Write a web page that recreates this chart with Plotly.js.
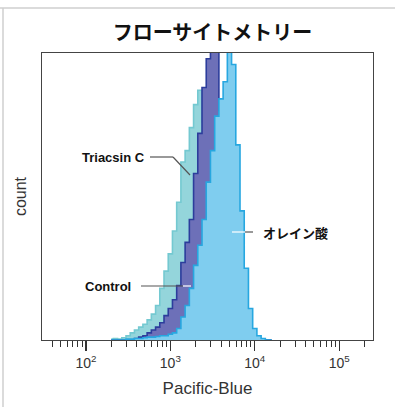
<!DOCTYPE html>
<html>
<head>
<meta charset="utf-8">
<script src="https://cdn.plot.ly/plotly-3.0.1.min.js"></script>
<style>html,body{margin:0;padding:0;background:#fff;}#chart{width:395px;height:407px;}</style>
</head>
<body>
<div id="chart"></div>
<script>
// bin centres, log10(Pacific-Blue intensity)
const binLog = [2.30,2.35,2.40,2.45,2.50,2.55,2.60,2.65,2.70,2.75,2.80,2.85,2.90,2.95,
  3.00,3.05,3.10,3.15,3.20,3.25,3.30,3.35,3.40,3.45,3.50,3.55,3.60,3.65,3.70,3.75,
  3.80,3.85,3.90,3.95,4.00,4.05,4.10,4.15,4.20];
// relative counts (100 = top of frame)
const triacsin = [0.3,0.5,0.3,0.8,1.5,2.5,3.5,4.5,5.5,7,9,12,18,24,
  30,38,48,62,66,74,82,87,76,60,40,22,10,4,1.5,0.5,
  0,0,0,0,0,0,0,0,0];
const control = [0,0,0,0,0,0,0.5,1,1.5,2.5,3.5,4.5,6,8.5,
  11,14,19,27,34,42,58,72,88,98,104,104,80,50,30,15,
  6,2,0.5,0,0,0,0,0,0];
const oleic = [0,0,0,0,0.3,0.3,0.5,0.5,0.8,1,1,1.2,1.5,1.5,
  2,2.5,4,8,12,18,26,33,42,55,66,78,84,90,104,96,
  68,45,25,11,4,1.5,0.5,0,0];
const seriesNames = ['Triacsin C', 'Control', 'オレイン酸'];
const tickVals = [100, 1000, 10000, 100000];
const tickText = ['10<sup>2</sup>', '10<sup>3</sup>', '10<sup>4</sup>', '10<sup>5</sup>'];
const minorDigits = [2, 3, 4, 5, 6, 7, 8, 9];
const decades = [10, 100, 1000, 10000, 100000];

const xs = binLog.map(v => Math.pow(10, v));
const minorVals = [];
decades.forEach(d => minorDigits.forEach(m => minorVals.push(d * m)));

const fills = ['#94d5db', '#6d70b8', '#7fcdef'];
const lines = ['#74c9d1', '#2c3d9c', '#27a7e0'];
const data = [triacsin, control, oleic].map((ys, i) => ({
  type: 'scatter', mode: 'lines', x: xs, y: ys, name: seriesNames[i],
  line: {shape: 'hvh', color: lines[i], width: 1.6},
  fill: 'tozeroy', fillcolor: fills[i], hoverinfo: 'skip'
}));

// plot frame in pixels: left 42, right 373, top 53, bottom 340
const L = 42, R = 373, T = 53, B = 340;
const px = x => (x - L) / (R - L);
const py = y => (B - y) / (B - T);
const jp = '"Noto Sans CJK JP", "Liberation Sans", sans-serif';
const lat = '"Liberation Sans", Arial, sans-serif';

function seg(x0, y0, x1, y1, color) {
  return {type: 'line', xref: 'paper', yref: 'paper', x0: px(x0), y0: py(y0), x1: px(x1), y1: py(y1),
    line: {color: color, width: 1.2}, layer: 'above'};
}

const layout = {
  width: 395, height: 407,
  margin: {l: L, r: 395 - R, t: T, b: 407 - B},
  paper_bgcolor: '#fff', plot_bgcolor: '#fff',
  showlegend: false,
  title: {text: '<b>フローサイトメトリー</b>', font: {family: jp, size: 20, color: '#111'},
    xref: 'container', x: 212.5 / 395, xanchor: 'center', yref: 'container', y: 1 - 33 / 407, yanchor: 'middle'},
  xaxis: {
    type: 'log', range: [1.48, 5.40], tickmode: 'array', tickvals: tickVals, ticktext: tickText,
    ticks: 'outside', ticklen: 10, tickwidth: 1.2, tickcolor: '#333',
    minor: {tickmode: 'array', tickvals: minorVals, ticks: 'outside', ticklen: 6, tickwidth: 1, tickcolor: '#333', showgrid: false},
    showgrid: false, zeroline: false, showline: true, mirror: true, linecolor: '#444', linewidth: 1,
    tickfont: {family: lat, size: 14, color: '#333'},
    title: {text: 'Pacific-Blue', font: {family: lat, size: 17, color: '#333'}, standoff: 12}
  },
  yaxis: {
    range: [0, 100], showticklabels: false, ticks: '', showgrid: false, zeroline: false,
    showline: true, mirror: true, linecolor: '#444', linewidth: 1,
    title: {text: 'count', font: {family: lat, size: 16, color: '#333'}, standoff: 10}
  },
  annotations: [
    {xref: 'paper', yref: 'paper', x: px(147), y: py(157), xanchor: 'right', yanchor: 'middle', showarrow: false,
      text: '<b>' + seriesNames[0] + '</b>', font: {family: lat, size: 13, color: '#111'}},
    {xref: 'paper', yref: 'paper', x: px(133), y: py(286), xanchor: 'right', yanchor: 'middle', showarrow: false,
      text: '<b>' + seriesNames[1] + '</b>', font: {family: lat, size: 13, color: '#111'}},
    {xref: 'paper', yref: 'paper', x: px(261), y: py(232), xanchor: 'left', yanchor: 'middle', showarrow: false,
      text: '<b>' + seriesNames[2] + '</b>', font: {family: jp, size: 13, color: '#111'}}
  ],
  shapes: [
    seg(150, 157, 173, 157, '#555'), seg(173, 157, 190, 175, '#555'),
    seg(141, 286, 183, 286, '#555'), seg(183, 286, 191, 286, '#fff'),
    seg(232, 232, 245, 232, '#fff'), seg(245, 232, 253, 232, '#555'),
    // outer figure frame
    {type: 'line', xref: 'paper', yref: 'paper', x0: px(0), x1: px(395), y0: py(8), y1: py(8), line: {color: '#cfcfcf', width: 1.5}},
    {type: 'line', xref: 'paper', yref: 'paper', x0: px(3), x1: px(3), y0: py(8), y1: py(407), line: {color: '#cfcfcf', width: 1.5}}
  ]
};

Plotly.newPlot('chart', data, layout, {displayModeBar: false, staticPlot: true});
</script>
</body>
</html>
